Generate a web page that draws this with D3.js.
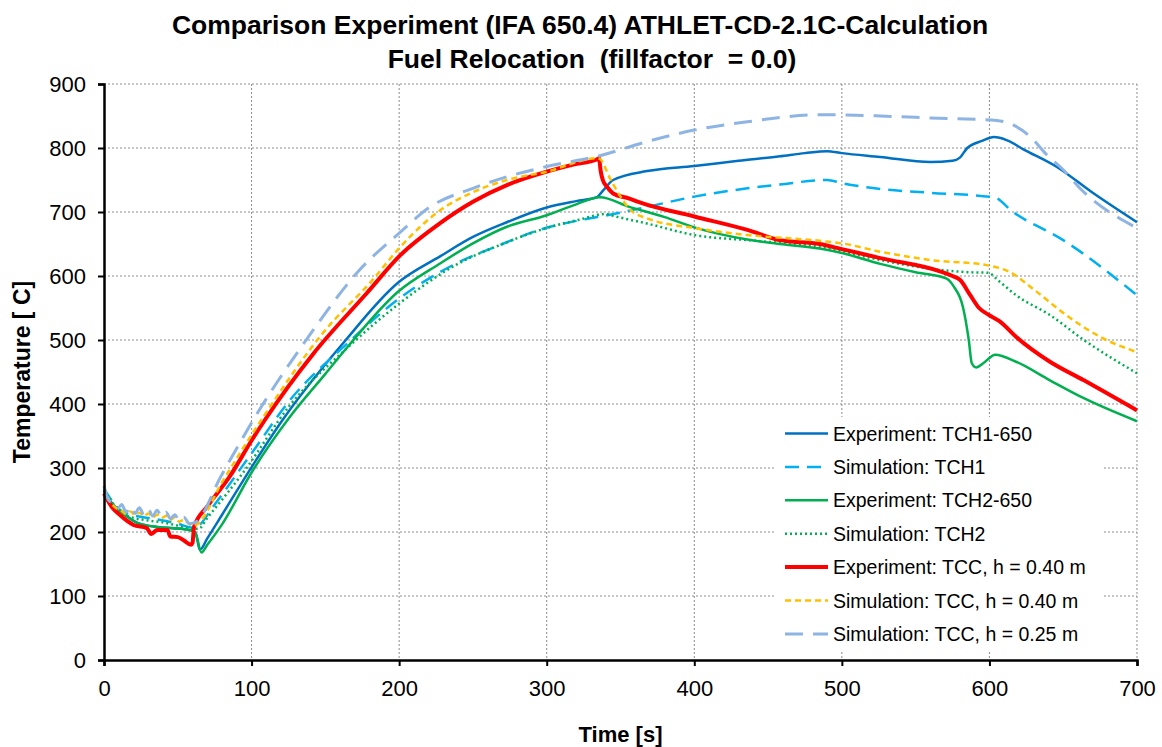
<!DOCTYPE html>
<html>
<head>
<meta charset="utf-8">
<script src="https://cdn.jsdelivr.net/npm/d3@7"></script>
<style>
  html, body { margin: 0; padding: 0; background: #fff; }
  svg { display: block; font-family: "Liberation Sans", Arial, sans-serif; }
</style>
</head>
<body>
<svg id="chart" width="1162" height="747"></svg>
<script>
// ---------- data ----------
const titleLines = ["Comparison Experiment (IFA 650.4) ATHLET-CD-2.1C-Calculation", "Fuel Relocation  (fillfactor  = 0.0)"];
const xTicks = [0, 100, 200, 300, 400, 500, 600, 700];
const yTicks = [0, 100, 200, 300, 400, 500, 600, 700, 800, 900];
const xLabel = "Time [s]";
const yLabel = "Temperature [ C]";

const seriesNames = [
  "Experiment: TCH1-650",
  "Simulation: TCH1",
  "Experiment: TCH2-650",
  "Simulation: TCH2",
  "Experiment: TCC, h = 0.40 m",
  "Simulation: TCC, h = 0.40 m",
  "Simulation: TCC, h = 0.25 m"
];

const tch1ExpT = [0, 5, 13, 23, 36, 47, 58, 62, 65, 70, 80, 101, 121, 150, 162, 199, 228, 250, 273, 300, 320, 334, 338, 345, 368, 400, 430, 458, 475, 490, 500, 526, 560, 575, 580, 585, 595, 603, 612, 623, 646, 670, 700];
const tch1ExpV = [265, 246, 229, 214, 208, 206, 203, 199, 172, 190, 227, 305, 375, 462, 495, 589, 631, 661, 684, 707, 717, 723, 733, 750, 764, 772, 780, 787, 792, 795, 792, 786, 778, 780, 785, 800, 811, 817, 812, 798, 770, 730, 684];

const tch1SimT = [0, 5, 10, 20, 30, 40, 50, 60, 64, 74, 100, 126, 165, 199, 239, 270, 295, 322, 341, 368, 400, 436, 458, 490, 500, 526, 560, 603, 616, 650, 700];
const tch1SimV = [268, 250, 236, 226, 222, 218, 213, 207, 210, 240, 323, 406, 495, 563, 620, 650, 672, 687, 695, 708, 724, 737, 743, 750, 745, 736, 730, 723, 700, 656, 570];

const tch2ExpT = [0, 5, 13, 23, 36, 47, 58, 62, 66, 70, 80, 100, 126, 150, 165, 199, 228, 250, 273, 300, 320, 336, 356, 380, 400, 436, 458, 485, 500, 526, 550, 571, 576, 582, 586, 588, 591, 596, 604, 618, 641, 664, 700];
const tch2ExpV = [262, 245, 229, 214, 208, 206, 203, 198, 168, 180, 212, 293, 380, 447, 489, 575, 620, 651, 677, 695, 712, 723, 708, 692, 676, 657, 650, 643, 636, 619, 606, 596, 583, 552, 500, 464, 457, 464, 477, 466, 437, 409, 373];

const tch2SimT = [0, 5, 10, 20, 30, 40, 50, 60, 64, 70, 95, 126, 165, 199, 239, 270, 300, 322, 340, 345, 368, 400, 442, 485, 500, 520, 544, 585, 599, 607, 618, 641, 664, 700];
const tch2SimV = [265, 248, 233, 222, 218, 215, 210, 205, 205, 222, 295, 398, 488, 555, 618, 650, 675, 688, 697, 694, 682, 664, 655, 645, 638, 628, 617, 606, 605, 591, 570, 539, 500, 448];

const tccExpT = [0, 5, 11, 20, 29, 32, 36, 43, 45, 50, 54, 59, 60, 61, 70, 85, 100, 109, 142, 178, 201, 228, 250, 273, 300, 318, 334, 335.5, 336.5, 338, 341, 345, 356, 363, 400, 436, 458, 485, 500, 526, 567, 575, 580, 587, 593, 599, 607, 618, 641, 664, 700];
const tccExpV = [260, 240, 226, 211, 206, 197, 203, 203, 193, 192, 187, 180, 183, 208, 240, 286, 343, 375, 479, 573, 633, 683, 716, 742, 763, 774, 782, 784, 765, 750, 739, 729, 721, 715, 693, 672, 656, 650, 642, 628, 607, 600, 594, 570, 550, 540, 529, 505, 466, 437, 390];

const tcc40SimT = [0, 3, 6, 9, 12, 15, 18, 21, 24, 27, 30, 33, 36, 39, 42, 45, 48, 51, 54, 57, 60, 63, 80, 108, 148, 182, 201, 228, 250, 273, 300, 334, 336, 343, 350, 356, 368, 400, 436, 485, 500, 526, 560, 598, 614, 630, 652, 675, 700];
const tcc40SimV = [270, 252, 242, 236, 233, 228, 232, 226, 230, 225, 229, 223, 227, 222, 225, 219, 223, 216, 219, 214, 210, 212, 278, 380, 510, 594, 646, 703, 731, 750, 763, 784, 783, 752, 724, 705, 690, 675, 664, 655, 651, 638, 625, 617, 606, 579, 539, 505, 481];

const tcc25SimT = [0, 3, 6, 9, 12, 15, 18, 21, 24, 27, 30, 33, 36, 39, 42, 45, 48, 51, 54, 58, 62, 79, 104, 137, 173, 201, 221, 250, 273, 300, 336, 368, 400, 436, 485, 526, 560, 605, 616, 628, 639, 650, 661, 700];
const tcc25SimV = [272, 250, 245, 236, 243, 231, 240, 229, 238, 227, 236, 225, 234, 224, 231, 221, 227, 217, 223, 213, 215, 286, 386, 500, 609, 669, 708, 737, 755, 771, 788, 810, 828, 841, 852, 850, 847, 843, 836, 817, 789, 766, 738, 675];

const seriesT = [tch1ExpT, tch1SimT, tch2ExpT, tch2SimT, tccExpT, tcc40SimT, tcc25SimT];
const seriesV = [tch1ExpV, tch1SimV, tch2ExpV, tch2SimV, tccExpV, tcc40SimV, tcc25SimV];

// ---------- styles ----------
const styles = [
  { color: "#0070C0", width: 2.5, dash: null },
  { color: "#00B0F0", width: 2.5, dash: "14,8" },
  { color: "#00B050", width: 2.5, dash: null },
  { color: "#00B050", width: 2.5, dash: "2,3" },
  { color: "#FF0000", width: 4, dash: null },
  { color: "#FFC000", width: 2.5, dash: "6,4" },
  { color: "#8EB4E3", width: 3, dash: "18,10" }
];

// ---------- layout ----------
const svg = d3.select("#chart");
const m = { left: 104, right: 1137, top: 84, bottom: 660 };
const x = d3.scaleLinear().domain([0, 700]).range([m.left, m.right]);
const y = d3.scaleLinear().domain([0, 900]).range([m.bottom, m.top]);

// grid
const grid = svg.append("g");
grid.selectAll(".gx").data(xTicks.filter(d => d > 0)).join("line")
  .attr("x1", d => x(d)).attr("x2", d => x(d))
  .attr("y1", m.top).attr("y2", m.bottom)
  .attr("stroke", "#8c8c8c").attr("stroke-width", 1).attr("stroke-dasharray", "2,2");
grid.selectAll(".gy").data(yTicks.filter(d => d > 0)).join("line")
  .attr("x1", m.left).attr("x2", m.right)
  .attr("y1", d => y(d)).attr("y2", d => y(d))
  .attr("stroke", "#8c8c8c").attr("stroke-width", 1).attr("stroke-dasharray", "2,2");

// series
const line = d3.line().curve(d3.curveMonotoneX).x(d => x(d[0])).y(d => y(d[1]));
const plot = svg.append("g");
seriesNames.forEach((name, i) => {
  const pts = seriesT[i].map((t, k) => [t, seriesV[i][k]]);
  plot.append("path").datum(pts)
    .attr("d", line)
    .attr("fill", "none")
    .attr("stroke", styles[i].color)
    .attr("stroke-width", styles[i].width)
    .attr("stroke-linejoin", "round")
    .attr("stroke-dasharray", styles[i].dash);
});

// axes
const xAxis = d3.axisBottom(x).tickValues(xTicks).tickSize(6).tickPadding(14).tickFormat(d3.format("d"));
const yAxis = d3.axisLeft(y).tickValues(yTicks).tickSize(6).tickPadding(12).tickFormat(d3.format("d"));
const gx = svg.append("g").attr("transform", `translate(0,${m.bottom})`).call(xAxis);
const gy = svg.append("g").attr("transform", `translate(${m.left},0)`).call(yAxis);
[gx, gy].forEach(g => {
  g.select(".domain").attr("stroke", "#000").attr("stroke-width", 2.5);
  g.selectAll(".tick line").attr("stroke", "#000").attr("stroke-width", 2);
  g.selectAll(".tick text").attr("fill", "#000").style("font-size", "22px")
    .style("font-family", "'Liberation Sans', Arial, sans-serif");
});

// title
const titleX = [580, 592];
svg.append("g").selectAll("text").data(titleLines).join("text")
  .attr("x", (d, i) => titleX[i]).attr("y", (d, i) => 34 + i * 34)
  .attr("text-anchor", "middle")
  .attr("xml:space", "preserve")
  .style("white-space", "pre")
  .style("font-size", "26.5px").style("font-weight", "bold")
  .text(d => d);

// axis labels
svg.append("text").attr("x", (m.left + m.right) / 2).attr("y", 742)
  .attr("text-anchor", "middle").style("font-size", "22px").style("font-weight", "bold")
  .text(xLabel);
svg.append("text").attr("transform", `translate(30,${(m.top + m.bottom) / 2}) rotate(-90)`)
  .attr("text-anchor", "middle").style("font-size", "23px").style("font-weight", "bold")
  .text(yLabel);

// legend
const lg = svg.append("g");
lg.append("rect").attr("x", 776).attr("y", 417).attr("width", 327).attr("height", 233).attr("fill", "#fff");
seriesNames.forEach((name, i) => {
  const cy = 433.5 + i * 33.4;
  lg.append("line").attr("x1", 785).attr("x2", 828).attr("y1", cy).attr("y2", cy)
    .attr("stroke", styles[i].color).attr("stroke-width", styles[i].width)
    .attr("stroke-dasharray", styles[i].dash);
  lg.append("text").attr("x", 833).attr("y", cy + 7)
    .style("font-size", "19.5px").text(name);
});
</script>
</body>
</html>
